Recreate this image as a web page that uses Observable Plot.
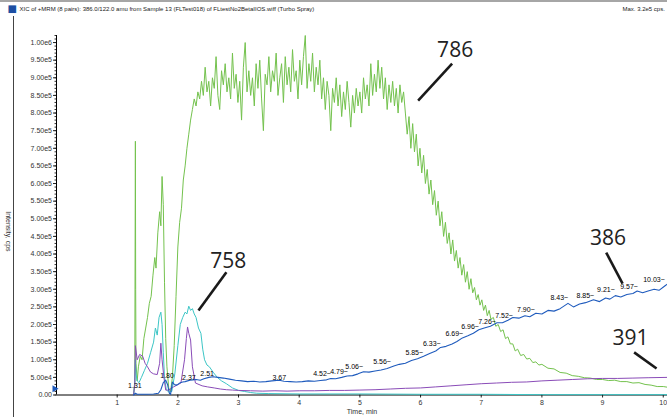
<!DOCTYPE html>
<html><head><meta charset="utf-8">
<script src="https://cdn.jsdelivr.net/npm/d3@7"></script>
<script src="https://cdn.jsdelivr.net/npm/@observablehq/plot@0.6"></script>
<style>body{margin:0;background:#fff;} svg{display:block;}</style>
</head><body><div id="chart"></div>
<script>
// Intensity values in units of 1e5 cps, time in minutes
const xTicks = [1,2,3,4,5,6,7,8,9,10];
const yTicks = [0,0.5,1,1.5,2,2.5,3,3.5,4,4.5,5,5.5,6,6.5,7,7.5,8,8.5,9,9.5,10];
const yTickLabels = ["0.00","5.00e4","1.00e5","1.50e5","2.00e5","2.50e5","3.00e5","3.50e5","4.00e5","4.50e5","5.00e5","5.50e5","6.00e5","6.50e5","7.00e5","7.50e5","8.00e5","8.50e5","9.00e5","9.50e5","1.00e6"];

const title = "XIC of +MRM (8 pairs): 386.0/122.0 amu from Sample 13 (FLTest018) of FLtestNo2BetaIIOS.wiff (Turbo Spray)";
const maxText = "Max. 3.2e5 cps.";
const xLabel = "Time, min";
const yLabel = "Intensity, cps";

const green786 = [[1.27,0],[1.29,0.4],[1.30,7.2],[1.305,3],[1.31,0.9],[1.33,0.4],[1.35,0.8],[1.38,1.1],[1.41,1.0],[1.44,1.6],[1.47,1.9],[1.50,2.2],[1.53,2.6],[1.56,2.8],[1.59,3.4],[1.62,3.9],[1.64,3.6],[1.67,4.6],[1.70,5.2],[1.72,4.8],[1.74,6.2],[1.76,5.4],[1.78,3.2],[1.80,1.6],[1.82,0.8],[1.85,0.2],[1.88,0.1],[1.91,0.5],[1.94,1.4],[1.97,2.8],[2.00,4.2],[2.03,4.9],[2.06,5.3],[2.09,6.1],[2.12,6.5],[2.15,7.0],[2.18,7.4],[2.21,7.8],[2.24,8.1],[2.27,8.4],
[2.30,8.2],[2.33,8.6],[2.36,8.4],[2.39,8.9],[2.42,8.5],[2.45,9.3],[2.48,8.6],[2.51,8.9],[2.54,8.2],[2.57,9.0],[2.60,8.7],[2.63,9.6],[2.66,8.5],[2.69,8.1],[2.72,9.2],[2.75,8.8],[2.78,9.4],[2.81,8.6],[2.84,9.0],[2.87,8.4],[2.90,9.7],[2.93,8.7],[2.96,9.1],[2.99,8.3],[3.02,8.9],[3.05,7.8],[3.08,9.3],[3.11,10.0],[3.14,8.6],[3.17,9.2],[3.20,8.5],[3.23,9.0],[3.26,8.2],[3.29,9.4],[3.32,8.7],[3.35,9.5],[3.38,8.4],[3.41,7.5],[3.44,9.1],[3.47,8.8],[3.50,9.6],[3.53,8.6],[3.56,9.2],[3.59,8.9],[3.62,9.7],[3.65,8.5],[3.68,9.0],[3.71,9.4],[3.74,8.3],[3.77,9.6],[3.80,8.8],[3.83,9.3],[3.86,8.6],[3.89,9.8],[3.92,8.9],[3.95,9.2],[3.98,8.4],[4.01,9.5],[4.04,8.8],[4.07,9.6],[4.10,10.2],[4.13,8.7],[4.16,9.4],[4.19,8.9],[4.22,9.7],[4.25,8.6],[4.28,9.3],[4.31,8.8],[4.34,9.5],[4.37,8.4],[4.40,9.0],[4.43,8.1],[4.46,8.9],[4.49,8.5],[4.52,7.5],[4.55,8.7],[4.58,8.3],[4.61,9.0],[4.64,8.2],[4.67,8.8],[4.70,7.9],[4.73,8.6],[4.76,8.1],[4.79,8.9],[4.82,8.3],[4.85,7.6],[4.88,8.5],[4.91,8.0],[4.94,8.7],[4.97,8.2],[5.00,8.6],[5.03,8.0],[5.06,9.0],[5.09,8.4],[5.12,8.8],[5.15,8.2],[5.18,9.4],[5.21,8.5],[5.24,9.1],[5.27,8.6],[5.30,9.5],[5.33,8.7],[5.36,9.3],[5.39,8.4],[5.42,9.0],[5.45,8.1],[5.48,8.8],[5.51,8.3],[5.54,8.9],[5.57,8.2],[5.60,8.7],[5.63,8.0],[5.66,8.8],[5.69,8.3],[5.72,8.6],[5.75,8.0],
[5.78,7.4],[5.81,7.9],[5.84,7.0],[5.87,7.7],[5.90,6.9],[5.93,7.4],[5.96,6.5],[5.99,7.0],[6.02,6.3],[6.05,6.8],[6.08,6.0],[6.11,6.4],[6.14,5.7],[6.17,6.1],[6.20,5.4],[6.23,5.8],[6.26,5.1],[6.29,5.5],[6.32,4.8],[6.35,5.2],[6.38,4.5],[6.41,4.9],[6.44,4.3],[6.47,4.6],[6.50,4.0],[6.53,4.4],[6.56,3.8],[6.59,4.1],[6.62,3.6],[6.65,3.9],[6.68,3.4],[6.71,3.7],[6.74,3.2],[6.77,3.5],[6.80,3.0],[6.83,3.3],[6.86,2.9],[6.89,3.05],[6.92,2.7],[6.95,2.85],[6.98,2.55],[7.01,2.7],[7.04,2.4],[7.07,2.55],[7.10,2.25],[7.13,2.4],[7.16,2.15],[7.20,2.2],[7.24,1.95],[7.28,2.0],[7.32,1.8],[7.36,1.85],[7.40,1.6],[7.44,1.65],[7.48,1.45],[7.52,1.45],[7.56,1.25],[7.60,1.3],[7.65,1.12],[7.70,1.15],[7.75,1.02],[7.80,1.04],[7.85,0.92],[7.90,0.94],[7.95,0.85],[8.00,0.87],[8.10,0.76],[8.20,0.74],[8.30,0.64],[8.40,0.62],[8.50,0.55],[8.60,0.53],[8.70,0.49],[8.80,0.48],[8.90,0.44],[9.00,0.44],[9.10,0.41],[9.20,0.42],[9.30,0.38],[9.40,0.38],[9.50,0.34],[9.60,0.35],[9.70,0.3],[9.80,0.28],[9.90,0.24],[10.00,0.24],[10.07,0.22]];

const cyan758 = [[1.27,0],[1.29,0.3],[1.30,1.0],[1.31,0.6],[1.33,0.4],[1.36,0.35],[1.40,0.5],[1.45,0.7],[1.50,0.9],[1.55,1.2],[1.60,1.5],[1.63,1.9],[1.66,1.7],[1.69,2.2],[1.72,2.35],[1.74,2.0],[1.76,1.2],[1.78,0.5],[1.81,0.15],[1.85,0.08],[1.90,0.1],[1.95,0.6],[2.00,1.4],[2.04,2.0],[2.08,2.2],[2.12,2.35],[2.15,2.3],[2.18,2.52],[2.21,2.4],[2.24,2.45],[2.27,2.3],[2.30,2.2],[2.34,1.9],[2.38,1.75],[2.41,1.3],[2.44,1.0],[2.48,0.85],[2.52,0.8],[2.58,0.65],[2.65,0.5],[2.72,0.4],[2.80,0.32],[2.90,0.2],[3.00,0.13],[3.10,0.1],[3.20,0.07],[3.30,0.05],[3.50,0.04],[4.00,0.03],[5.00,0.03],[6.00,0.02],[7.00,0.02],[8.00,0.01],[9.00,0.01],[10.07,0.01]];

const purple391 = [[1.27,0],[1.29,0.3],[1.30,1.4],[1.33,1.0],[1.37,1.15],[1.42,1.1],[1.46,0.9],[1.50,0.8],[1.55,0.65],[1.60,0.6],[1.66,0.58],[1.70,0.9],[1.72,1.47],[1.74,1.0],[1.77,0.5],[1.80,0.14],[1.85,0.14],[1.93,0.23],[2.05,0.34],[2.11,1.0],[2.14,1.6],[2.16,1.93],[2.18,1.75],[2.21,1.56],[2.24,0.8],[2.29,0.34],[2.40,0.26],[2.49,0.23],[2.60,0.2],[2.70,0.17],[2.80,0.15],[2.90,0.14],[3.00,0.13],[3.20,0.12],[3.40,0.11],[3.60,0.12],[3.80,0.11],[4.00,0.12],[4.25,0.12],[4.50,0.13],[4.75,0.13],[5.00,0.14],[5.25,0.15],[5.50,0.17],[5.75,0.19],[6.00,0.2],[6.25,0.23],[6.50,0.26],[6.75,0.29],[7.00,0.32],[7.25,0.34],[7.50,0.36],[7.75,0.37],[8.00,0.4],[8.25,0.42],[8.50,0.44],[8.75,0.46],[9.00,0.47],[9.25,0.47],[9.50,0.48],[9.75,0.49],[10.07,0.5]];

const blue386 = [[1.27,0],[1.30,0.05],[1.33,0.02],[1.40,0.02],[1.50,0.02],[1.60,0.03],[1.68,0.05],[1.72,0.15],[1.76,0.35],[1.80,0.42],[1.83,0.3],[1.86,0.05],[1.88,0.02],[1.91,0.37],[1.94,0.3],[1.97,0.28],[2.00,0.3],[2.04,0.35],[2.08,0.37],[2.12,0.38],[2.16,0.4],[2.20,0.42],[2.25,0.43],[2.30,0.44],[2.37,0.42],[2.43,0.46],[2.51,0.5],[2.58,0.52],[2.66,0.5],[2.75,0.48],[2.85,0.45],[2.95,0.42],[3.05,0.4],[3.15,0.38],[3.25,0.39],[3.35,0.37],[3.45,0.38],[3.55,0.4],[3.67,0.42],[3.75,0.39],[3.85,0.38],[3.95,0.37],[4.05,0.38],[4.15,0.4],[4.25,0.39],[4.35,0.41],[4.45,0.43],[4.52,0.47],[4.60,0.46],[4.70,0.5],[4.79,0.54],[4.88,0.55],[4.97,0.6],[5.06,0.66],[5.15,0.65],[5.25,0.68],[5.35,0.71],[5.45,0.75],[5.56,0.82],[5.65,0.87],[5.75,0.9],[5.85,0.98],[5.95,1.03],[6.05,1.1],[6.15,1.18],[6.25,1.25],[6.33,1.35],[6.42,1.38],[6.52,1.45],[6.60,1.52],[6.69,1.62],[6.78,1.68],[6.87,1.75],[6.96,1.85],[7.05,1.9],[7.15,1.95],[7.26,2.05],[7.35,2.05],[7.44,2.12],[7.52,2.2],[7.62,2.18],[7.72,2.25],[7.80,2.22],[7.90,2.32],[8.00,2.3],[8.10,2.4],[8.20,2.38],[8.30,2.45],[8.43,2.6],[8.52,2.5],[8.62,2.58],[8.72,2.62],[8.85,2.7],[8.95,2.65],[9.05,2.75],[9.12,2.72],[9.21,2.82],[9.30,2.78],[9.40,2.85],[9.50,2.88],[9.57,2.95],[9.66,2.9],[9.75,2.95],[9.85,3.0],[9.93,2.97],[10.03,3.1],[10.07,3.15]];

// peak-time labels on the 386 trace: text, left-edge time, intensity
const peakText = ["1.31","1.80","2.37","2.51","3.67","4.52~","4.79~","5.06~","5.56~","5.85~","6.33~","6.69~","6.96~","7.26~","7.52~","7.90~","8.43~","8.85~","9.21~","9.57~","10.03~"];
const peakX = [1.18,1.71,2.07,2.37,3.56,4.23,4.51,4.76,5.22,5.75,6.04,6.41,6.67,6.95,7.23,7.59,8.14,8.57,8.91,9.29,9.67];
const peakY = [0.27,0.55,0.50,0.61,0.50,0.61,0.67,0.81,0.95,1.21,1.46,1.74,1.94,2.09,2.26,2.43,2.77,2.82,3.00,3.08,3.28];

// big mass annotations with leader lines
const annoText = ["786","758","386","391"];
const annoX = [6.57,2.83,9.09,9.46];
const annoY = [9.77,3.79,4.44,1.60];
const leadX1 = [6.52,2.80,9.06,9.52];
const leadY1 = [9.40,3.48,4.04,1.21];
const leadX2 = [5.96,2.34,9.33,9.89];
const leadY2 = [8.35,2.40,3.16,0.75];

const peaks = peakText.map((t,i)=>({t, x: peakX[i], y: peakY[i]}));
const annos = annoText.map((t,i)=>({t, x: annoX[i], y: annoY[i], x1: leadX1[i], y1: leadY1[i], x2: leadX2[i], y2: leadY2[i]}));
const yLab = new Map(yTicks.map((d,i)=>[d, yTickLabels[i]]));

const chart = Plot.plot({
  width: 667, height: 417,
  marginLeft: 56, marginRight: 0, marginTop: 35, marginBottom: 22.5,
  style: {fontFamily: "Liberation Sans, Arial, sans-serif", fontSize: "7px", background: "#fff", color: "#222"},
  x: {domain: [0, 10.07]},
  y: {domain: [0, 10.2]},
  marks: [
    Plot.axisY({ticks: 102, tickSize: 1.5, tickFormat: () => "", stroke: "#333"}),
    Plot.axisY({ticks: yTicks, tickSize: 3, tickPadding: 1.5, tickFormat: d => yLab.get(d), label: null, fill: "#333"}),
    Plot.axisX({ticks: xTicks, tickSize: 3, tickPadding: 2, label: null, fill: "#333"}),
    Plot.ruleX([0], {stroke: "#000"}),
    Plot.ruleY([0], {stroke: "#000"}),
    Plot.line(green786, {x: d => d[0], y: d => d[1], stroke: "#74c24e", strokeWidth: 1}),
    Plot.line(cyan758, {x: d => d[0], y: d => d[1], stroke: "#3cc6c6", strokeWidth: 1}),
    Plot.line(purple391, {x: d => d[0], y: d => d[1], stroke: "#8a4cb8", strokeWidth: 1}),
    Plot.line(blue386, {x: d => d[0], y: d => d[1], stroke: "#1f5bbd", strokeWidth: 1.1}),
    Plot.text(peaks, {x: "x", y: "y", text: "t", textAnchor: "start", fontSize: 7, fill: "#000"}),
    Plot.link(annos, {x1: "x1", y1: "y1", x2: "x2", y2: "y2", stroke: "#1a1a1a", strokeWidth: 2.6}),
    Plot.text(annos, {x: "x", y: "y", text: "t", fontFamily: "Open Sans", fontSize: 21, fill: "#222"}),
    Plot.dot([0], {x: 0, y: 0.18, symbol: "triangle", r: 2.6, rotate: 90, fill: "#1f5bbd", dx: -2}),
    Plot.text([xLabel], {frameAnchor: "bottom", dy: 17, lineAnchor: "middle", fontSize: 7, fill: "#333"}),
    Plot.text([yLabel], {frameAnchor: "left", dx: -48, dy: -4, rotate: 90, lineAnchor: "middle", fontSize: 7, fill: "#333"}),
    Plot.text([title], {frameAnchor: "top-left", dx: -37, dy: -26, textAnchor: "start", lineAnchor: "middle", fontSize: 6, fill: "#222"}),
    Plot.text([maxText], {frameAnchor: "top-right", dx: -45, dy: -26, textAnchor: "start", lineAnchor: "middle", fontSize: 6, fill: "#222"}),
    Plot.text(["■"], {frameAnchor: "top-left", dx: -49, dy: -26.5, lineAnchor: "middle", fontFamily: "DejaVu Sans", fontSize: 10, fill: "#1d4fa3"})
  ]
});
const svg = d3.select(chart);
svg.append("line").attr("x1", 0).attr("x2", 667).attr("y1", 1).attr("y2", 1).attr("stroke", "#888").attr("stroke-width", 1.5);
svg.append("line").attr("x1", 13.5).attr("x2", 13.5).attr("y1", 16).attr("y2", 417).attr("stroke", "#444").attr("stroke-width", 1);
document.getElementById("chart").appendChild(chart);
</script>
</body></html>
